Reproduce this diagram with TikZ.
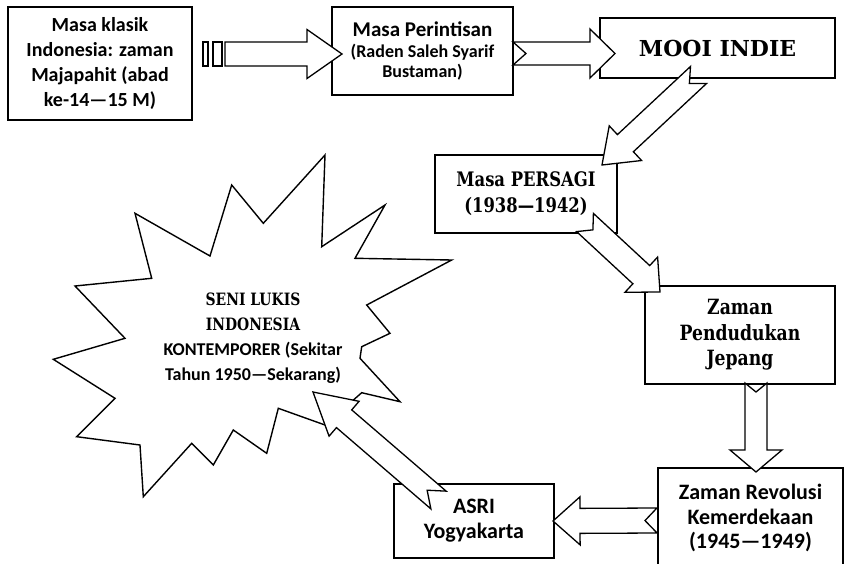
\documentclass[tikz,border=0pt]{standalone}
\usepackage{fontspec}
\setmainfont{Carlito}[BoldFont={Carlito Bold}]
\newfontfamily\slabfont{DejaVu Serif}[BoldFont={DejaVu Serif Bold}]
\newfontfamily\slabnarrow{DejaVu Serif}[BoldFont={DejaVu Serif Bold}, FakeStretch=0.82]
\usetikzlibrary{calc}

\tikzset{
  box/.style={draw, line width=1.4pt, fill=white, align=flush center, inner sep=0pt},
  barrow/.style={draw, line width=1.3pt, fill=white, line join=miter},
  stripe/.style={draw, line width=1.1pt, fill=white},
  burst/.style={draw, line width=1.4pt, fill=white, line join=miter},
}

% block arrow: tail, tip, shaft half width, head half width, head length, notch
\newcommand\blockarrow[6]{%
  \coordinate (ba-h) at ($(#2)!#5pt!(#1)$);
  \draw[barrow] ($(#1)!#3pt!90:(#2)$) -- ($(ba-h)!#3pt!90:(#2)$)
    -- ($(ba-h)!#4pt!90:(#2)$) -- (#2) -- ($(ba-h)!#4pt!-90:(#2)$)
    -- ($(ba-h)!#3pt!-90:(#2)$) -- ($(#1)!#3pt!-90:(#2)$)
    -- ($(#1)!#6pt!(#2)$) -- cycle;
}

\begin{document}
\begin{tikzpicture}[x=1pt, y=-1pt]
  \fill[white] (0,0) rectangle (847,563);
  \useasboundingbox (0,0) rectangle (847,563);
  \clip (0,0) rectangle (847,563);

  % the boxes
  \node[box, minimum width=184, minimum height=113, text width=182,
        font=\bfseries\fontsize{20}{25}\selectfont] (klasik) at (100,63.5)
        {Masa klasik\\Indonesia: zaman\\Majapahit (abad\\ke-14—15 M)};
  \node[box, minimum width=181, minimum height=88, text width=179] (rintis) at (422.5,51)
        {\bfseries\fontsize{21}{21}\selectfont Masa Perintisan\par
         \fontsize{18}{20.5}\selectfont (Raden Saleh Syarif\\Bustaman)\par};
  \node[box, minimum width=235, minimum height=60,
        font=\slabfont\bfseries\fontsize{22}{22}\selectfont] (mooi) at (717.5,48) {MOOI INDIE};
  \node[box, minimum width=182, minimum height=78, text width=180,
        font=\slabnarrow\bfseries\fontsize{20}{26}\selectfont] (persagi) at (526,194)
        {Masa PERSAGI\\(1938—1942)};
  \node[box, minimum width=190, minimum height=98, text width=188,
        font=\slabnarrow\bfseries\fontsize{21}{25.5}\selectfont] (jepang) at (740,335)
        {Zaman\\Pendudukan\\Jepang};
  \node[box, minimum width=185, minimum height=100, text width=183,
        font=\bfseries\fontsize{22}{24.5}\selectfont] (revolusi) at (750.5,518)
        {Zaman Revolusi\\Kemerdekaan\\(1945—1949)};
  \node[box, minimum width=160, minimum height=74, text width=158,
        font=\bfseries\fontsize{22}{25}\selectfont] (asri) at (474,521)
        {ASRI\\Yogyakarta};

  % the burst
  \draw[burst] (325,155) -- (321.7,246.7) -- (385,205) -- (355,258.3) -- (451.7,260)
    -- (366.7,305) -- (390,333.3) -- (361.7,346.7) -- (360,358.3) -- (400,401.7)
    -- (361.7,392.7) -- (325,425) -- (278.3,408.3) -- (266.7,453.3) -- (233.3,430)
    -- (213.3,465) -- (191.7,443.3) -- (143.3,496.7) -- (140,445) -- (76.7,436.7)
    -- (115,398.3) -- (53.3,359.3) -- (125,338.3) -- (75,286) -- (151.7,278.3)
    -- (135,213.3) -- (210,256) -- (231.7,185) -- (263.3,223.3) -- cycle;
  \node[align=flush center, text width=220, inner sep=0pt] (seni) at (253,338)
    {\slabnarrow\bfseries\fontsize{17}{25}\selectfont SENI LUKIS\\INDONESIA\par
     \normalfont\bfseries\fontsize{18}{25}\selectfont KONTEMPORER (Sekitar\\Tahun 1950—Sekarang)\par};

  % arrow ends
  \coordinate (a1s) at (225,54);    \coordinate (a1e) at (342,54);
  \coordinate (a2s) at (513,53.5);  \coordinate (a2e) at (615,53.5);
  \coordinate (a3s) at (698.5,75);  \coordinate (a3e) at (602,165);
  \coordinate (a4s) at (585,222.5); \coordinate (a4e) at (660,292);
  \coordinate (a5s) at (756,383);   \coordinate (a5e) at (756,472);
  \coordinate (a6s) at (657,520.5); \coordinate (a6e) at (553,521);
  \coordinate (a7s) at (438.5,500); \coordinate (a7e) at (313,392);

  \draw[stripe] (203,42) rectangle (208,66);
  \draw[stripe] (213,42) rectangle (222,66);
  \blockarrow{a1s}{a1e}{12}{24.5}{35}{0}
  \blockarrow{a2s}{a2e}{11.5}{24.5}{25}{13}
  \blockarrow{a3s}{a3e}{11.7}{23.7}{32}{12.5}
  \blockarrow{a4s}{a4e}{12.4}{24}{25.5}{10.8}
  \blockarrow{a5s}{a5e}{11}{26}{22}{9}
  \blockarrow{a6s}{a6e}{12.5}{24}{27}{12}
  \blockarrow{a7s}{a7e}{11.7}{23}{41}{15}
\end{tikzpicture}
\end{document}
